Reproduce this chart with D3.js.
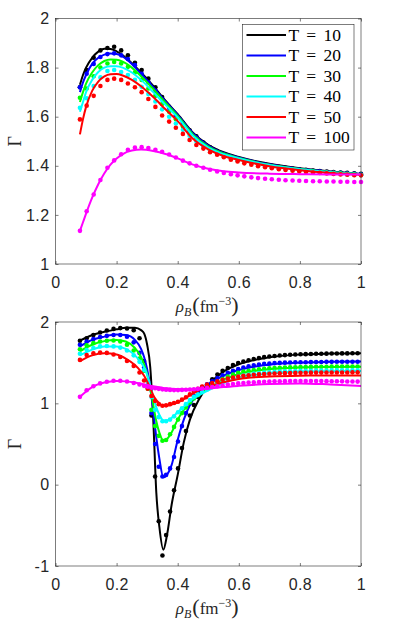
<!DOCTYPE html>
<html>
<head>
<meta charset="utf-8">
<script src="https://cdn.jsdelivr.net/npm/d3@7"></script>
<style>
  html, body { margin: 0; padding: 0; background: #fff; }
  svg { display: block; }
</style>
</head>
<body>
<div id="chart"></div>
<script>
// Gamma vs rho_B, two panels, dots = data, lines = fits

const legendLabels = ["T = 10", "T = 20", "T = 30", "T = 40", "T = 50", "T = 100"];
const seriesColors = ["#000000", "#0000ff", "#00ff00", "#00ffff", "#ff0000", "#ff00ff"];

const xTicks = [0, 0.2, 0.4, 0.6, 0.8, 1];
const topYTicks = [1, 1.2, 1.4, 1.6, 1.8, 2];
const bottomYTicks = [-1, 0, 1, 2];

// ---- top panel ----
const topDotX = [0.080, 0.102, 0.125, 0.147, 0.170, 0.192, 0.215, 0.237, 0.260, 0.282,
  0.304, 0.327, 0.349, 0.372, 0.394, 0.417, 0.439, 0.461, 0.484, 0.506,
  0.529, 0.551, 0.574, 0.596, 0.618, 0.641, 0.663, 0.686, 0.708, 0.731,
  0.753, 0.776, 0.798, 0.820, 0.843, 0.865, 0.888, 0.910, 0.933, 0.955,
  0.978, 1.000];
const topDotT10 = [1.72, 1.79, 1.84, 1.87, 1.88, 1.885, 1.87, 1.85, 1.82, 1.79,
  1.755, 1.72, 1.68, 1.64, 1.605, 1.575, 1.545, 1.52, 1.495, 1.475,
  1.46, 1.448, 1.438, 1.43, 1.422, 1.415, 1.41, 1.405, 1.40, 1.396,
  1.392, 1.389, 1.386, 1.384, 1.381, 1.379, 1.377, 1.375, 1.373, 1.371,
  1.369, 1.367];
const topDotT20 = [1.72, 1.775, 1.815, 1.843, 1.855, 1.858, 1.85, 1.835, 1.81, 1.775,
  1.74, 1.705, 1.67, 1.635, 1.60, 1.57, 1.54, 1.515, 1.49, 1.47,
  1.456, 1.445, 1.435, 1.427, 1.42, 1.413, 1.408, 1.403, 1.398, 1.394,
  1.39, 1.387, 1.384, 1.382, 1.379, 1.377, 1.375, 1.373, 1.371, 1.369,
  1.367, 1.365];
const topDotT30 = [1.677, 1.715, 1.765, 1.80, 1.817, 1.823, 1.817, 1.803, 1.78, 1.75,
  1.715, 1.685, 1.652, 1.62, 1.59, 1.56, 1.532, 1.508, 1.485, 1.466,
  1.452, 1.441, 1.432, 1.424, 1.417, 1.41, 1.405, 1.40, 1.396, 1.392,
  1.388, 1.385, 1.382, 1.38, 1.377, 1.375, 1.373, 1.371, 1.369, 1.367,
  1.365, 1.363];
const topDotT40 = [1.636, 1.675, 1.725, 1.76, 1.786, 1.79, 1.782, 1.77, 1.75, 1.722,
  1.692, 1.662, 1.63, 1.60, 1.572, 1.547, 1.522, 1.50, 1.48, 1.463,
  1.45, 1.439, 1.43, 1.422, 1.415, 1.408, 1.403, 1.398, 1.394, 1.39,
  1.386, 1.383, 1.38, 1.378, 1.375, 1.373, 1.371, 1.369, 1.367, 1.365,
  1.363, 1.362];
const topDotT50 = [1.589, 1.645, 1.685, 1.725, 1.75, 1.755, 1.75, 1.735, 1.72, 1.70,
  1.672, 1.64, 1.605, 1.58, 1.555, 1.53, 1.505, 1.485, 1.47, 1.455,
  1.445, 1.435, 1.425, 1.418, 1.41, 1.404, 1.398, 1.394, 1.39, 1.386,
  1.383, 1.38, 1.377, 1.375, 1.373, 1.371, 1.369, 1.367, 1.365, 1.364,
  1.362, 1.361];
const topDotT100 = [1.135, 1.215, 1.283, 1.342, 1.392, 1.422, 1.447, 1.465, 1.474, 1.476,
  1.472, 1.465, 1.457, 1.446, 1.434, 1.421, 1.41, 1.40, 1.392, 1.384,
  1.377, 1.371, 1.366, 1.361, 1.357, 1.353, 1.35, 1.347, 1.345, 1.343,
  1.341, 1.34, 1.339, 1.338, 1.337, 1.337, 1.336, 1.336, 1.335, 1.335,
  1.334, 1.334];

const topLineX = [0.08, 0.09, 0.10, 0.12, 0.14, 0.16, 0.18, 0.20, 0.22, 0.25,
  0.28, 0.32, 0.36, 0.40, 0.45, 0.50, 0.55, 0.60, 0.70, 0.80, 0.90, 1.00];
const topLineT10 = [1.73, 1.77, 1.80, 1.84, 1.865, 1.877, 1.876, 1.866, 1.85, 1.818,
  1.78, 1.725, 1.665, 1.61, 1.535, 1.485, 1.455, 1.436, 1.408, 1.39, 1.377, 1.367];
const topLineT20 = [1.70, 1.74, 1.77, 1.815, 1.84, 1.853, 1.857, 1.855, 1.845, 1.815,
  1.775, 1.72, 1.662, 1.607, 1.532, 1.482, 1.452, 1.434, 1.406, 1.388, 1.376, 1.367];
const topLineT30 = [1.66, 1.70, 1.735, 1.78, 1.81, 1.827, 1.833, 1.832, 1.824, 1.80,
  1.765, 1.713, 1.657, 1.603, 1.527, 1.478, 1.45, 1.432, 1.404, 1.387, 1.375, 1.366];
const topLineT40 = [1.62, 1.66, 1.70, 1.75, 1.782, 1.80, 1.806, 1.806, 1.80, 1.78,
  1.75, 1.70, 1.648, 1.597, 1.522, 1.474, 1.447, 1.43, 1.403, 1.386, 1.374, 1.366];
const topLineT50 = [1.528, 1.59, 1.64, 1.705, 1.743, 1.764, 1.773, 1.774, 1.768, 1.75,
  1.724, 1.68, 1.63, 1.582, 1.51, 1.467, 1.44, 1.424, 1.398, 1.382, 1.371, 1.364];
const topLineT100 = [1.135, 1.17, 1.205, 1.27, 1.325, 1.37, 1.405, 1.43, 1.448, 1.462,
  1.466, 1.46, 1.448, 1.43, 1.405, 1.388, 1.378, 1.373, 1.368, 1.366, 1.365, 1.365];

// ---- bottom panel ----
const bottomDotX = [0.080, 0.102, 0.124, 0.146, 0.168, 0.190, 0.212, 0.234, 0.256, 0.275,
  0.290, 0.302, 0.314, 0.326, 0.338, 0.350, 0.362, 0.375, 0.388, 0.401,
  0.414, 0.427, 0.440, 0.453, 0.466, 0.480, 0.496, 0.513, 0.530, 0.547,
  0.564, 0.581, 0.598, 0.615, 0.632, 0.649, 0.666, 0.683, 0.700, 0.717,
  0.734, 0.751, 0.768, 0.785, 0.802, 0.819, 0.836, 0.853, 0.870, 0.887,
  0.904, 0.921, 0.938, 0.955, 0.972, 0.989];
const bottomDotT10 = [1.77, 1.80, 1.84, 1.87, 1.895, 1.915, 1.925, 1.92, 1.90, 1.80,
  1.52, 1.22, 0.85, 0.10, -0.45, -0.87, -0.62, -0.33, -0.07, 0.20,
  0.45, 0.66, 0.85, 0.98, 1.08, 1.14, 1.22, 1.295, 1.355, 1.40,
  1.435, 1.47, 1.495, 1.515, 1.53, 1.545, 1.556, 1.568, 1.575, 1.582,
  1.588, 1.593, 1.597, 1.60, 1.603, 1.605, 1.607, 1.609, 1.61, 1.611,
  1.612, 1.613, 1.614, 1.614, 1.615, 1.615];
const bottomDotT20 = [1.72, 1.76, 1.79, 1.815, 1.83, 1.84, 1.84, 1.82, 1.75, 1.62,
  1.44, 1.20, 0.88, 0.50, 0.22, 0.10, 0.12, 0.20, 0.34, 0.53,
  0.72, 0.88, 1.00, 1.09, 1.15, 1.20, 1.235, 1.27, 1.31, 1.345,
  1.375, 1.40, 1.42, 1.44, 1.455, 1.467, 1.477, 1.485, 1.49, 1.494,
  1.497, 1.50, 1.502, 1.504, 1.505, 1.506, 1.507, 1.508, 1.509, 1.51,
  1.51, 1.511, 1.511, 1.512, 1.512, 1.512];
const bottomDotT30 = [1.665, 1.715, 1.74, 1.76, 1.77, 1.772, 1.76, 1.72, 1.65, 1.55,
  1.40, 1.18, 0.92, 0.72, 0.60, 0.54, 0.55, 0.62, 0.71, 0.80,
  0.88, 0.95, 1.01, 1.06, 1.10, 1.14, 1.18, 1.22, 1.26, 1.30,
  1.33, 1.355, 1.375, 1.39, 1.40, 1.41, 1.418, 1.425, 1.43, 1.434,
  1.437, 1.44, 1.442, 1.444, 1.446, 1.447, 1.448, 1.449, 1.45, 1.45,
  1.451, 1.451, 1.452, 1.452, 1.452, 1.453];
const bottomDotT40 = [1.61, 1.655, 1.68, 1.70, 1.705, 1.70, 1.685, 1.65, 1.59, 1.51,
  1.41, 1.27, 1.08, 0.92, 0.83, 0.78, 0.78, 0.80, 0.84, 0.89,
  0.94, 0.99, 1.04, 1.08, 1.11, 1.14, 1.17, 1.20, 1.235, 1.265,
  1.29, 1.31, 1.33, 1.345, 1.355, 1.365, 1.372, 1.378, 1.383, 1.387,
  1.39, 1.393, 1.395, 1.397, 1.399, 1.40, 1.401, 1.402, 1.403, 1.404,
  1.405, 1.405, 1.406, 1.406, 1.407, 1.407];
const bottomDotT50 = [1.534, 1.595, 1.616, 1.624, 1.62, 1.60, 1.57, 1.52, 1.46, 1.38,
  1.28, 1.18, 1.09, 1.03, 0.99, 0.97, 0.975, 0.99, 1.005, 1.02,
  1.045, 1.075, 1.11, 1.145, 1.18, 1.205, 1.23, 1.25, 1.27, 1.29,
  1.305, 1.318, 1.33, 1.338, 1.345, 1.352, 1.357, 1.361, 1.364, 1.367,
  1.369, 1.371, 1.373, 1.374, 1.375, 1.376, 1.377, 1.378, 1.378, 1.379,
  1.379, 1.38, 1.38, 1.38, 1.381, 1.381];
const bottomDotT100 = [1.08, 1.16, 1.21, 1.245, 1.265, 1.277, 1.278, 1.268, 1.25, 1.232,
  1.215, 1.203, 1.193, 1.185, 1.178, 1.172, 1.168, 1.165, 1.163, 1.163,
  1.165, 1.167, 1.17, 1.174, 1.178, 1.182, 1.19, 1.20, 1.21, 1.22,
  1.23, 1.238, 1.245, 1.25, 1.255, 1.259, 1.263, 1.266, 1.268, 1.27,
  1.272, 1.273, 1.274, 1.275, 1.275, 1.275, 1.275, 1.274, 1.274, 1.273,
  1.272, 1.271, 1.27, 1.269, 1.268, 1.267];

const bottomLineX = [0.08, 0.12, 0.16, 0.20, 0.23, 0.26, 0.28, 0.29, 0.30, 0.31,
  0.32, 0.33, 0.34, 0.353, 0.365, 0.38, 0.40, 0.42, 0.44, 0.47,
  0.50, 0.55, 0.60, 0.70, 0.80, 0.90, 1.00];
const bottomLineT10 = [1.77, 1.84, 1.88, 1.91, 1.93, 1.93, 1.90, 1.86, 1.72, 1.45,
  0.80, -0.10, -0.52, -0.80, -0.62, -0.25, 0.12, 0.52, 0.80, 1.05,
  1.22, 1.39, 1.48, 1.565, 1.60, 1.612, 1.616];
const bottomLineT20 = [1.70, 1.78, 1.82, 1.845, 1.84, 1.78, 1.67, 1.57, 1.42, 1.20,
  0.90, 0.58, 0.32, 0.09, 0.12, 0.24, 0.55, 0.80, 0.98, 1.13,
  1.23, 1.34, 1.41, 1.475, 1.50, 1.51, 1.515];
const bottomLineT30 = [1.64, 1.72, 1.765, 1.78, 1.76, 1.68, 1.57, 1.48, 1.36, 1.18,
  0.98, 0.78, 0.64, 0.54, 0.56, 0.64, 0.80, 0.92, 1.01, 1.11,
  1.18, 1.29, 1.36, 1.42, 1.44, 1.447, 1.45];
const bottomLineT40 = [1.59, 1.66, 1.70, 1.70, 1.67, 1.59, 1.50, 1.44, 1.35, 1.22,
  1.08, 0.95, 0.86, 0.79, 0.79, 0.82, 0.89, 0.96, 1.03, 1.10,
  1.16, 1.25, 1.31, 1.37, 1.39, 1.396, 1.398];
const bottomLineT50 = [1.52, 1.59, 1.615, 1.60, 1.55, 1.47, 1.39, 1.34, 1.27, 1.19,
  1.10, 1.04, 1.00, 0.97, 0.97, 0.985, 1.01, 1.05, 1.10, 1.16,
  1.20, 1.26, 1.30, 1.33, 1.34, 1.342, 1.342];
const bottomLineT100 = [1.08, 1.20, 1.255, 1.275, 1.27, 1.255, 1.24, 1.232, 1.225, 1.218,
  1.21, 1.203, 1.197, 1.19, 1.185, 1.18, 1.175, 1.172, 1.171, 1.174,
  1.18, 1.20, 1.215, 1.238, 1.245, 1.232, 1.214];

const width = 399;
const height = 638;
const axisColor = "#262626";
const tickFont = "'Liberation Sans', Arial, sans-serif";
const mathFont = "'Liberation Serif', 'Times New Roman', serif";

const svg = d3.select("#chart")
  .append("svg")
  .attr("width", width)
  .attr("height", height);

function drawPanel({ top, bottom, yDomain, yTicks, dotX, dotSeries, lineX, lineSeries, legend }) {
  const left = 55.5;
  const right = 361;

  const x = d3.scaleLinear().domain([0, 1]).range([left, right]);
  const y = d3.scaleLinear().domain(yDomain).range([bottom, top]);

  const g = svg.append("g");

  const line = d3.line()
    .x((d) => x(d[0]))
    .y((d) => y(d[1]))
    .curve(d3.curveMonotoneX);

  lineSeries.forEach((vals, i) => {
    const pts = lineX.map((xv, j) => [xv, vals[j]]);
    g.append("path")
      .datum(pts)
      .attr("d", line)
      .attr("fill", "none")
      .attr("stroke", seriesColors[i])
      .attr("stroke-width", 2);

    g.append("g")
      .selectAll("circle")
      .data(dotX.map((xv, j) => [xv, dotSeries[i][j]]))
      .enter()
      .append("circle")
      .attr("cx", (d) => x(d[0]))
      .attr("cy", (d) => y(d[1]))
      .attr("r", 2.3)
      .attr("fill", seriesColors[i]);
  });

  // box
  g.append("rect")
    .attr("x", left)
    .attr("y", top)
    .attr("width", right - left)
    .attr("height", bottom - top)
    .attr("fill", "none")
    .attr("stroke", axisColor)
    .attr("stroke-width", 0.6);

  const styleAxis = (sel) => {
    sel.select(".domain").remove();
    sel.selectAll(".tick line").attr("stroke", axisColor).attr("stroke-width", 0.6);
    sel.selectAll(".tick text")
      .attr("fill", axisColor)
      .style("font-family", tickFont)
      .style("font-size", "16px")
      .style("letter-spacing", "0.4px");
  };

  // plain hyphen for negatives, like the original
  const fmt = (d) => String(d);

  g.append("g")
    .attr("transform", `translate(0,${bottom})`)
    .call(d3.axisBottom(x).tickValues(xTicks).tickFormat(fmt).tickSize(-3).tickPadding(13))
    .call(styleAxis);
  g.append("g")
    .attr("transform", `translate(0,${top})`)
    .call(d3.axisTop(x).tickValues(xTicks).tickFormat("").tickSize(-3))
    .call(styleAxis);
  g.append("g")
    .attr("transform", `translate(${left},0)`)
    .call(d3.axisLeft(y).tickValues(yTicks).tickFormat(fmt).tickSize(-3).tickPadding(6))
    .call(styleAxis);
  g.append("g")
    .attr("transform", `translate(${right},0)`)
    .call(d3.axisRight(y).tickValues(yTicks).tickFormat("").tickSize(-3))
    .call(styleAxis);

  // x label: rho_B (fm^-3)
  const xl = g.append("text")
    .attr("x", (left + right) / 2 - 1)
    .attr("y", bottom + 48)
    .attr("text-anchor", "middle")
    .attr("fill", axisColor)
    .style("font-family", mathFont)
    .style("font-size", "17px");
  xl.append("tspan").style("font-style", "italic").text("ρ");
  xl.append("tspan").style("font-style", "italic").style("font-size", "12px").attr("dy", 4).text("B");
  xl.append("tspan").style("font-size", "22px").attr("dy", -4).attr("dx", 1).text("(");
  xl.append("tspan").text("fm");
  xl.append("tspan").style("font-size", "12px").attr("dy", -7).text("−3");
  xl.append("tspan").style("font-size", "22px").attr("dy", 7).text(")");

  // y label
  g.append("text")
    .attr("transform", `translate(21,${(top + bottom) / 2}) rotate(-90)`)
    .attr("text-anchor", "middle")
    .attr("fill", axisColor)
    .style("font-family", mathFont)
    .style("font-size", "18px")
    .text("Γ");

  if (legend) {
    const lg = g.append("g");
    lg.append("rect")
      .attr("x", 242.5)
      .attr("y", 24.5)
      .attr("width", 111.5)
      .attr("height", 125.5)
      .attr("fill", "#fff")
      .attr("stroke", axisColor)
      .attr("stroke-width", 0.6);
    legendLabels.forEach((lab, i) => {
      const ry = 35 + i * 20.5;
      lg.append("line")
        .attr("x1", 246.5)
        .attr("x2", 286)
        .attr("y1", ry)
        .attr("y2", ry)
        .attr("stroke", seriesColors[i])
        .attr("stroke-width", 2);
      lg.append("text")
        .attr("x", 288.5)
        .attr("y", ry + 5.5)
        .attr("fill", "#000")
        .style("font-family", mathFont)
        .style("font-size", "17.5px")
        .style("word-spacing", "3px")
        .text(lab);
    });
  }
}

drawPanel({
  top: 18.5,
  bottom: 264,
  yDomain: [1, 2],
  yTicks: topYTicks,
  dotX: topDotX,
  dotSeries: [topDotT10, topDotT20, topDotT30, topDotT40, topDotT50, topDotT100],
  lineX: topLineX,
  lineSeries: [topLineT10, topLineT20, topLineT30, topLineT40, topLineT50, topLineT100],
  legend: true
});

drawPanel({
  top: 322,
  bottom: 566,
  yDomain: [-1, 2],
  yTicks: bottomYTicks,
  dotX: bottomDotX,
  dotSeries: [bottomDotT10, bottomDotT20, bottomDotT30, bottomDotT40, bottomDotT50, bottomDotT100],
  lineX: bottomLineX,
  lineSeries: [bottomLineT10, bottomLineT20, bottomLineT30, bottomLineT40, bottomLineT50, bottomLineT100],
  legend: false
});
</script>
</body>
</html>
